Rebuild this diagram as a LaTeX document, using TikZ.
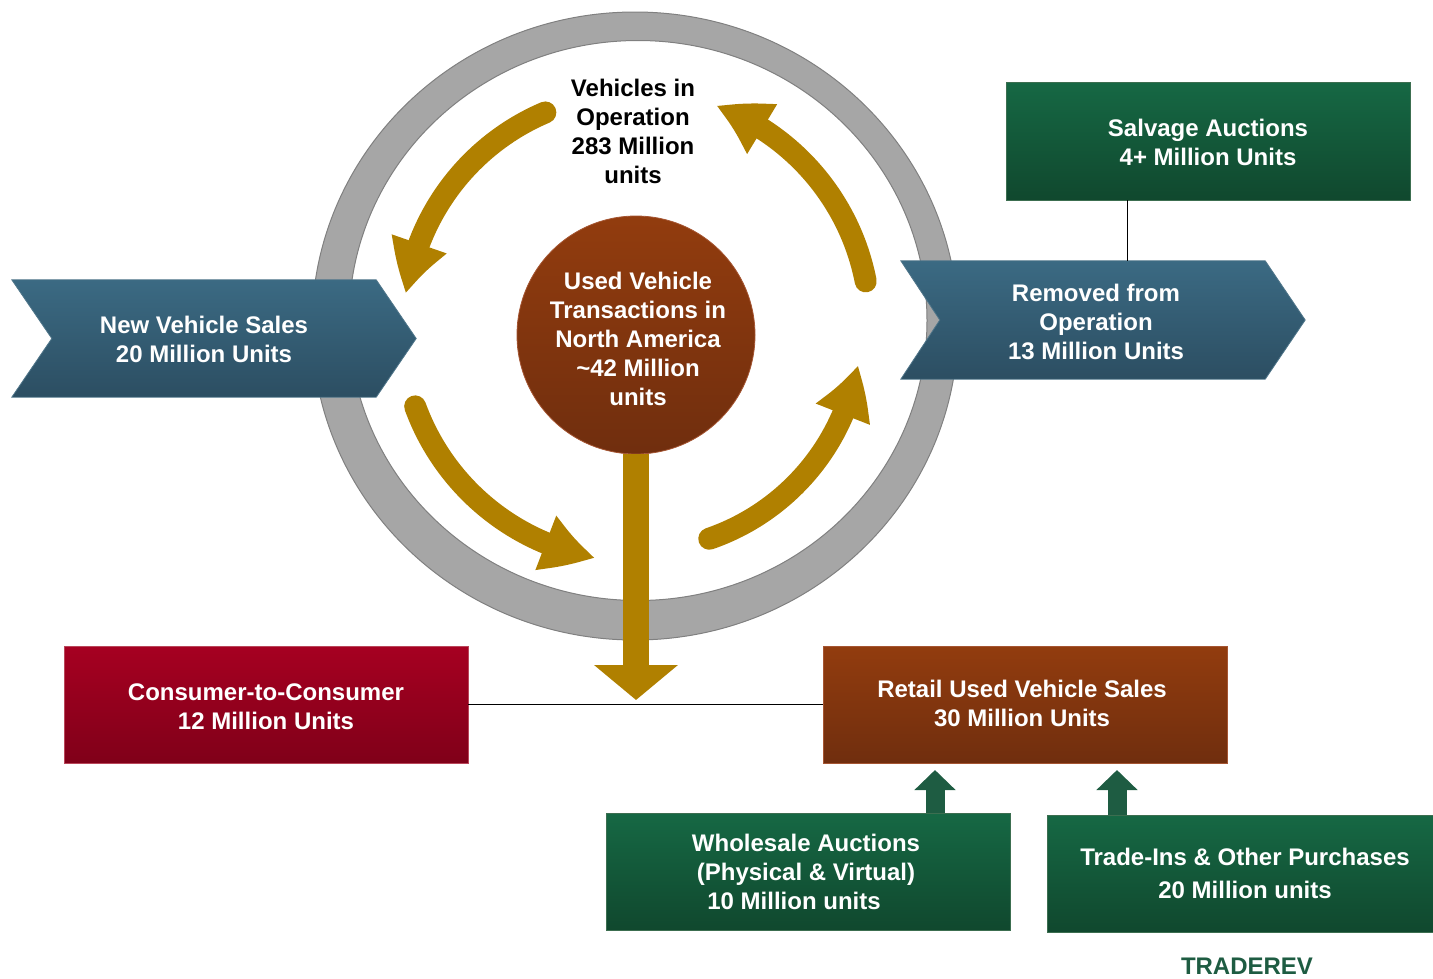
\documentclass[tikz,border=0pt]{standalone}
\usepackage{fontspec}
\setmainfont{Liberation Sans}
\usetikzlibrary{arrows.meta,bending,calc}

\definecolor{gold}{RGB}{176,128,0}
\definecolor{ringgray}{RGB}{166,166,166}
\definecolor{ringedge}{RGB}{128,128,128}
\definecolor{chevTop}{RGB}{59,106,131}
\definecolor{chevBot}{RGB}{44,78,98}
\definecolor{chevEdge}{RGB}{80,118,138}
\definecolor{grnTop}{RGB}{22,104,68}
\definecolor{grnBot}{RGB}{16,72,46}
\definecolor{grnEdge}{RGB}{60,110,80}
\definecolor{redTop}{RGB}{166,0,33}
\definecolor{redBot}{RGB}{128,0,25}
\definecolor{redEdge}{RGB}{185,70,90}
\definecolor{brnTop}{RGB}{146,60,14}
\definecolor{brnBot}{RGB}{112,46,14}
\definecolor{brnEdge}{RGB}{165,85,50}
\definecolor{darkgreen}{RGB}{30,92,66}

\begin{document}
\begin{tikzpicture}[x=1pt,y=1pt,
  lbl/.style={font=\fontsize{24}{29}\selectfont\bfseries, align=center, text=white, inner sep=0pt},
  darklbl/.style={lbl, text=black},
  boxbase/.style={minimum width=404pt, minimum height=117pt, inner sep=0pt, line width=0.8pt},
  greenbox/.style={boxbase, top color=grnTop, bottom color=grnBot, draw=grnEdge},
  redbox/.style={boxbase, top color=redTop, bottom color=redBot, draw=redEdge},
  brownbox/.style={boxbase, top color=brnTop, bottom color=brnBot, draw=brnEdge},
  chevframe/.style={minimum width=364pt, minimum height=117pt, inner sep=0pt},
  chevfill/.style={top color=chevTop, bottom color=chevBot, draw=chevEdge, line width=0.8pt},
  cyclearrow/.style={draw=gold, line width=22pt, line cap=round, -{Triangle[length=52pt,width=54pt,bend]}},
  feedarrow/.style={draw=darkgreen, line width=19pt, -{Triangle[length=20pt,width=40pt]}},
  link/.style={draw=black, line width=0.8pt}
]
\useasboundingbox (0,0) rectangle (1433,-978);

% grey ring of vehicles in operation
\fill[ringgray, even odd rule]
  (635,-326) ellipse [x radius=323, y radius=314]
  (638,-320.5) ellipse [x radius=289, y radius=280];
\draw[ringedge, line width=1pt] (635,-326) ellipse [x radius=323, y radius=314];
\draw[ringedge, line width=1pt] (638,-320.5) ellipse [x radius=289, y radius=280];

% chevron: new vehicle sales
\node[chevframe] (nvs) at (194,-338.5) {};
\path[chevfill] (nvs.north west) -- (nvs.north east) -- ([xshift=40pt]nvs.east)
  -- (nvs.south east) -- (nvs.south west) -- ([xshift=40pt]nvs.west) -- cycle;
\node[lbl] (nvstext) at ([xshift=10pt,yshift=-1pt]nvs.center) {New Vehicle Sales\\20 Million Units};

% chevron: removed from operation
\node[chevframe, minimum height=118pt] (rem) at (1083,-320) {};
\path[chevfill] (rem.north west) -- (rem.north east) -- ([xshift=40pt]rem.east)
  -- (rem.south east) -- (rem.south west) -- ([xshift=39pt]rem.west) -- cycle;
\node[lbl] (remtext) at ([xshift=13pt,yshift=-2pt]rem.center) {Removed from\\Operation\\13 Million Units};

% salvage auctions
\node[greenbox, minimum height=118pt] (salv) at (1208,-141) {};
\node[lbl] (salvtext) at (1208,-142) {Salvage Auctions\\4+ Million Units};
\coordinate (remtop) at (1127,-261);
\draw[link] (salv.south -| remtop) -- (remtop);

% centre: used vehicle transactions
\node[darklbl] (vio) at (633,-131) {Vehicles in\\Operation\\283 Million\\units};
\node[circle, minimum size=238pt, inner sep=0pt, top color=brnTop, bottom color=brnBot,
  draw=brnEdge, line width=0.8pt] (uvt) at (636,-335) {};
\node[lbl] (uvttext) at (638,-339)
  {Used Vehicle\\Transactions in\\North America\\\textasciitilde42 Million\\units};

% lower boxes
\node[redbox] (c2c) at (266,-704.5) {};
\node[lbl] (c2ctext) at (266,-707) {Consumer-to-Consumer\\12 Million Units};
\node[brownbox] (retail) at (1025,-704.5) {};
\node[lbl] (retailtext) at (1022,-703) {Retail Used Vehicle Sales\\30 Million Units};
\node[greenbox] (whole) at (808.5,-871.5) {};
\node[lbl] (wholetext) at (806,-872) {Wholesale Auctions\\(Physical \& Virtual)\\10 Million units\hspace*{24pt}};
\node[greenbox] (trade) at (1249,-873.5) {};
\node[lbl] (tradetext) at (1245,-873) {Trade-Ins \& Other Purchases\\[4pt]20 Million units};
\draw[link] (c2c.east) -- (retail.west);

% flow from the centre down to the split
\coordinate (dtip) at (636,-700);
\draw[draw=gold, line width=26pt, -{Triangle[length=35pt,width=82pt]}] (uvt.south) -- (dtip);

% feeds into retail sales
\coordinate (fa) at (935,-770);
\coordinate (fb) at (1117,-770);
\draw[feedarrow] (fa |- whole.north) -- (fa);
\draw[feedarrow] (fb |- trade.north) -- (fb);

% cycle arrows around the centre
\coordinate (cc) at (636,-326);
\draw[cyclearrow] ($(cc)+(113:232)$) arc[start angle=113, end angle=172, radius=232];
\draw[cyclearrow] ($(cc)+(11:234)$) arc[start angle=11, end angle=70, radius=234];
\draw[cyclearrow] ($(cc)+(200:235)$) arc[start angle=200, end angle=260, radius=235];
\draw[cyclearrow] ($(cc)+(289:225)$) arc[start angle=289, end angle=350, radius=225];

\node[font=\fontsize{24}{29}\selectfont\bfseries, text=darkgreen, inner sep=0pt] (brand) at (1247,-966) {TRADEREV};
\end{tikzpicture}
\end{document}
